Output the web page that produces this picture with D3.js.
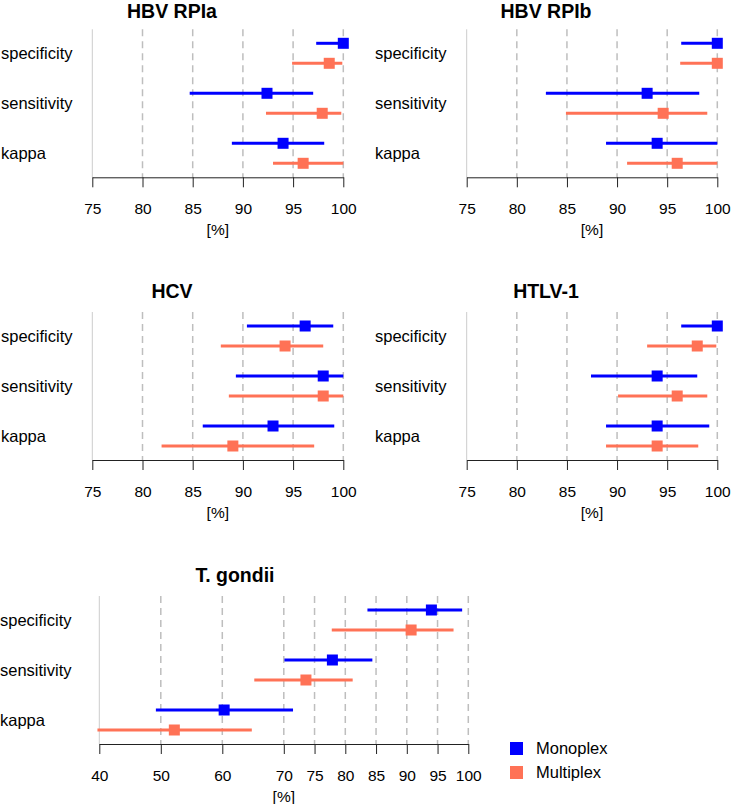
<!DOCTYPE html>
<html>
<head>
<meta charset="utf-8">
<script src="https://cdn.jsdelivr.net/npm/d3@7"></script>
<style>
  body { margin: 0; background: #fff; }
  text { font-family: "Liberation Sans", Arial, sans-serif; fill: #000; }
</style>
</head>
<body>
<div id="chart"></div>
<script>
// chart data
const panels = ["HBV RPIa", "HBV RPIb", "HCV", "HTLV-1", "T. gondii"];
const measures = ["specificity", "sensitivity", "kappa"];
const seriesNames = ["Monoplex", "Multiplex"];

// estimates and 95% CI, one row per panel, in measure order
const monoEst = [[100, 92.4, 94.0], [100, 93.0, 94.0], [96.2, 98.0, 93.0], [100, 94.0, 94.0], [94.0, 77.9, 60.3]];
const monoLo = [[97.3, 84.7, 88.9], [96.4, 82.9, 88.9], [90.4, 89.3, 86.0], [96.4, 87.4, 88.9], [83.6, 70.1, 49.2]];
const monoHi = [[100, 97.0, 98.1], [100, 98.2, 100], [99.0, 100, 99.1], [100, 98.0, 99.2], [99.0, 84.4, 71.5]];
const multiEst = [[98.6, 97.9, 96.0], [100, 94.6, 96.0], [94.2, 98.0, 89.0], [98.0, 96.0, 94.0], [90.7, 73.6, 52.2]];
const multiLo = [[94.9, 92.3, 93.0], [96.3, 84.9, 91.0], [87.8, 88.6, 81.9], [93.0, 90.1, 88.9], [77.8, 65.2, 39.7]];
const multiHi = [[99.9, 99.8, 100], [100, 99.0, 100], [98.0, 100, 97.1], [99.9, 99.0, 98.1], [97.6, 81.2, 64.8]];

const ticksShort = [75, 80, 85, 90, 95, 100];
const ticksLong = [40, 50, 60, 70, 75, 80, 85, 90, 95, 100];
const panelTicks = [ticksShort, ticksShort, ticksShort, ticksShort, ticksLong];

const colors = ["#0000ff", "#ff7256"];

// panel placement
const layout = [
  { x0: 92.3, x1: 343.3, axisY: 177.3, labelX: 1, titleX: 172 },
  { x0: 466.7, x1: 717.3, axisY: 177.3, labelX: 375, titleX: 546 },
  { x0: 92.3, x1: 343.3, axisY: 460, labelX: 1, titleX: 172 },
  { x0: 466.7, x1: 717.3, axisY: 460, labelX: 375, titleX: 546 },
  { x0: 99.3, x1: 468.3, axisY: 744, labelX: 0, titleX: 235 },
];

const svg = d3
  .select("#chart")
  .append("svg")
  .attr("width", 731)
  .attr("height", 804);

svg.append("rect").attr("width", 731).attr("height", 804).attr("fill", "#fff");

panels.forEach(function (name, p) {
  const L = layout[p];
  const ticks = panelTicks[p];
  const ests = [monoEst[p], multiEst[p]];
  const los = [monoLo[p], multiLo[p]];
  const his = [monoHi[p], multiHi[p]];

  const x = d3
    .scaleLinear()
    .domain([ticks[0], ticks[ticks.length - 1]])
    .range([L.x0, L.x1]);

  const y = d3
    .scalePoint()
    .domain(measures)
    .range([L.axisY - 124, L.axisY - 24]);

  const g = svg.append("g");

  // title (kept inside the top edge)
  g.append("text")
    .attr("x", L.titleX)
    .attr("y", Math.max(L.axisY - 162, 18))
    .attr("text-anchor", "middle")
    .attr("font-size", 19.5)
    .attr("font-weight", "bold")
    .text(name);

  // grid lines
  g.append("line")
    .attr("x1", x(ticks[0]))
    .attr("x2", x(ticks[0]))
    .attr("y1", L.axisY - 148)
    .attr("y2", L.axisY)
    .attr("stroke", "#cccccc")
    .attr("stroke-width", 1);

  g.selectAll(".grid")
    .data(ticks.slice(1))
    .join("line")
    .attr("class", "grid")
    .attr("x1", (d) => x(d))
    .attr("x2", (d) => x(d))
    .attr("y1", L.axisY - 148)
    .attr("y2", L.axisY)
    .attr("stroke", "#bebebe")
    .attr("stroke-width", 1.5)
    .attr("stroke-dasharray", "7,5");

  // x axis
  const ax = g
    .append("g")
    .attr("transform", `translate(0,${L.axisY})`)
    .call(
      d3.axisBottom(x).tickValues(ticks).tickSize(10).tickSizeOuter(0).tickPadding(16)
    );
  ax.select(".domain").attr("stroke", "#222");
  ax.selectAll(".tick line").attr("stroke", "#222");
  ax.selectAll(".tick text")
    .attr("font-size", 15.5)
    .attr("font-family", '"Liberation Sans", Arial, sans-serif')
    .attr("fill", "#000");

  g.append("text")
    .attr("x", (L.x0 + L.x1) / 2)
    .attr("y", L.axisY + 58)
    .attr("text-anchor", "middle")
    .attr("font-size", 15.5)
    .text("[%]");

  // measure labels
  g.selectAll(".mlabel")
    .data(measures)
    .join("text")
    .attr("class", "mlabel")
    .attr("x", L.labelX)
    .attr("y", (d) => y(d) + 6)
    .attr("font-size", 16.5)
    .text((d) => d);

  // intervals and points
  measures.forEach(function (m, i) {
    seriesNames.forEach(function (s, k) {
      const yy = y(m) + (k === 0 ? -10 : 10);
      g.append("line")
        .attr("x1", x(los[k][i]))
        .attr("x2", x(his[k][i]))
        .attr("y1", yy)
        .attr("y2", yy)
        .attr("stroke", colors[k])
        .attr("stroke-width", 3);
      g.append("rect")
        .attr("x", x(ests[k][i]) - 5.5)
        .attr("y", yy - 5.5)
        .attr("width", 11)
        .attr("height", 11)
        .attr("fill", colors[k]);
    });
  });
});

// legend
const legend = svg.append("g").attr("transform", "translate(510,742)");
seriesNames.forEach(function (s, k) {
  legend
    .append("rect")
    .attr("x", 0)
    .attr("y", k * 24)
    .attr("width", 13)
    .attr("height", 13)
    .attr("fill", colors[k]);
  legend
    .append("text")
    .attr("x", 26)
    .attr("y", k * 24 + 12)
    .attr("font-size", 16.5)
    .text(s);
});
</script>
</body>
</html>
